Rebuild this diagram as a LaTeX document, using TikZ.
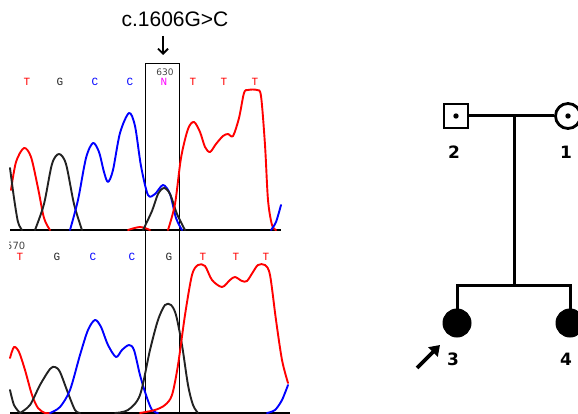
\documentclass[tikz,border=0pt]{standalone}
\usepackage{fontspec}
\setmainfont{Liberation Sans}
\newfontfamily\basefont{Liberation Mono}
\newfontfamily\pedfont{DejaVu Sans}
\usepackage{tikz}
\usetikzlibrary{
  arrows.meta,
  positioning,
  shapes.geometric
}
\definecolor{baseT}{HTML}{FF0000}
\definecolor{baseG}{HTML}{222222}
\definecolor{baseC}{HTML}{0000FF}
\definecolor{baseN}{HTML}{FF00FF}
\definecolor{baseline}{HTML}{22AA22}
\definecolor{darkgrey}{HTML}{444444}
\tikzset{
  trace/.style={
    line width=1.9pt, color=#1, line join=round, line cap=round
  },
  baselbl/.style={
    font=\fontsize{11}{11}\selectfont\basefont, text=#1, inner sep=0pt
  },
  poslbl/.style={
    font=\fontsize{9}{9}\selectfont\pedfont, text=darkgrey, inner sep=0pt
  },
  malebox/.style={
    rectangle, draw, line width=2.8pt, minimum size=24pt, inner sep=0pt
  },
  femalebox/.style={
    circle, draw, line width=2.8pt, minimum size=25pt, inner sep=0pt
  },
  affected/.style={
    circle, draw, fill=black, line width=1pt, minimum size=28pt, inner sep=0pt
  },
  pedlbl/.style={
    font=\fontsize{17}{17}\selectfont\pedfont\bfseries, inner sep=0pt
  },
  pedline/.style={
    line width=3pt
  },
}
\newcommand{\dotmark}[1]{\fill (#1) circle (2.7pt);}

\begin{document}
\begin{tikzpicture}[x=1pt, y=-1pt]
  \useasboundingbox (0,0) rectangle (578,414);

  % variant label
  \node[font=\fontsize{21}{21}\selectfont] (var) at (175,19) {c.1606G>C};
  \coordinate (vtip) at (163,55);
  \draw[line width=1.8pt, -{Straight Barb[length=5pt, width=10pt]}] (163,36) -- (vtip);

  % window round the variant
  \draw[line width=0.9pt] (145,413) -- (145,63) -- (179,63) -- (179,413);

  % upper trace (patient)
  \node[poslbl] (p630) at (165,72) {630};
  \node[baselbl=baseT] (t1) at (27,82) {T};
  \node[baselbl=baseG] (t2) at (60,82) {G};
  \node[baselbl=baseC] (t3) at (95,82) {C};
  \node[baselbl=baseC] (t4) at (130,82) {C};
  \node[baselbl=baseN] (t5) at (164,82) {N};
  \node[baselbl=baseT] (t6) at (193,82) {T};
  \node[baselbl=baseT] (t7) at (224,82) {T};
  \node[baselbl=baseT] (t8) at (255,82) {T};

  \draw[baseline, line width=1.2pt] (10,230) -- (281,230);
  \draw[trace=baseT] plot[smooth] coordinates {(128,230) (140,227) (150,230)};
  \draw[trace=baseT] plot[smooth] coordinates {(11,190) (16,162) (24,148) (31,157) (38,188) (44,218) (50,230)};
  \draw[trace=baseG] plot[smooth] coordinates {(10,168) (14,198) (18,222) (22,230)};
  \draw[trace=baseG] plot[smooth] coordinates {(35,230) (44,204) (52,164) (59,154) (66,164) (74,204) (82,230)};
  \draw[trace=baseC] plot[smooth] coordinates {(70,230) (78,200) (86,158) (93,143) (99,152) (104,172) (108,182) (113,170) (120,133) (129,113) (135,126) (141,166) (148,195) (155,194) (163,185) (170,194) (176,218) (182,230)};
  \draw[trace=baseG] plot[smooth] coordinates {(143,230) (152,211) (158,194) (164,188) (170,194) (177,214) (185,230)};
  \draw[trace=baseT] plot[smooth] coordinates {(168,230) (175,204) (181,158) (188,129) (194,122) (200,132) (205,147) (210,152) (216,144) (223,136) (228,134) (233,136) (239,118) (244,93) (248,90) (257,90) (261,96) (265,145) (268,200) (272,225) (276,230)};
  \draw[trace=baseC] plot[smooth] coordinates {(271,230) (276,222) (281,205)};

  % lower trace (reference)
  \begin{scope}
    \clip (9,236) rectangle (60,252);
    \node[poslbl, font=\fontsize{10}{10}\selectfont\pedfont, anchor=west] (p570) at (6,246) {570};
  \end{scope}
  \node[baselbl=baseT] (r1) at (20,257) {T};
  \node[baselbl=baseG] (r2) at (57,257) {G};
  \node[baselbl=baseC] (r3) at (93,257) {C};
  \node[baselbl=baseC] (r4) at (132,257) {C};
  \node[baselbl=baseG] (r5) at (169,257) {G};
  \node[baselbl=baseT] (r6) at (203,257) {T};
  \node[baselbl=baseT] (r7) at (236,257) {T};
  \node[baselbl=baseT] (r8) at (266,257) {T};

  \draw[baseline, line width=1.2pt] (10,413) -- (290,413);
  \draw[trace=baseT] plot[smooth] coordinates {(10,358) (14,347) (19,352) (25,370) (32,395) (38,408) (45,413) (50,413)};
  \draw[trace=baseG] plot[smooth] coordinates {(10,390) (14,405) (20,413)};
  \draw[trace=baseG] plot[smooth] coordinates {(20,413) (30,405) (40,385) (50,369) (55,367) (60,372) (68,393) (75,410) (80,413)};
  \draw[trace=baseC] plot[smooth] coordinates {(50,413) (60,407) (70,390) (80,355) (88,330) (95,320) (101,327) (108,345) (116,357) (122,350) (129,345) (134,350) (140,375) (146,395) (152,410) (158,413)};
  \draw[trace=baseG] plot[smooth] coordinates {(115,413) (128,410) (140,395) (150,350) (158,320) (165,305) (171,305) (176,315) (182,345) (188,385) (193,405) (198,413)};
  \draw[trace=baseT] plot[smooth] coordinates {(140,413) (155,410) (165,405) (172,395) (178,365) (185,315) (192,275) (198,265) (205,266) (212,280) (222,287) (230,280) (235,277) (242,281) (247,281) (253,272) (258,265) (265,265) (270,275) (276,320) (282,360) (288,383)};
  \draw[trace=baseC] plot[smooth] coordinates {(267,413) (275,410) (282,400) (288,385)};

  % pedigree
  \node[malebox] (father) at (456,116) {};
  \node[femalebox] (mother) at (568,116) {};
  \dotmark{father.center}
  \dotmark{mother.center}
  \node[pedlbl] (n2) at (454,152) {2};
  \node[pedlbl] (n1) at (566,152) {1};

  \node[affected] (pro) at (457,323) {};
  \node[affected] (sib) at (570,323) {};
  \node[pedlbl] (n3) at (453,359) {3};
  \node[pedlbl] (n4) at (566,359) {4};

  \coordinate (mate) at (514,116);
  \coordinate (sibs) at (514,285);
  \draw[pedline] (father.east) -- (mother.west);
  \draw[pedline] (mate) -- (sibs);
  \draw[pedline, line cap=rect] (pro.north) -- (pro.north |- sibs) -- (sib.north |- sibs) -- (sib.north);

  \coordinate (ptail) at (417,368);
  \draw[line width=3.8pt, -{Triangle[length=10pt, width=13pt]}] (ptail) -- (440,345);
\end{tikzpicture}
\end{document}
